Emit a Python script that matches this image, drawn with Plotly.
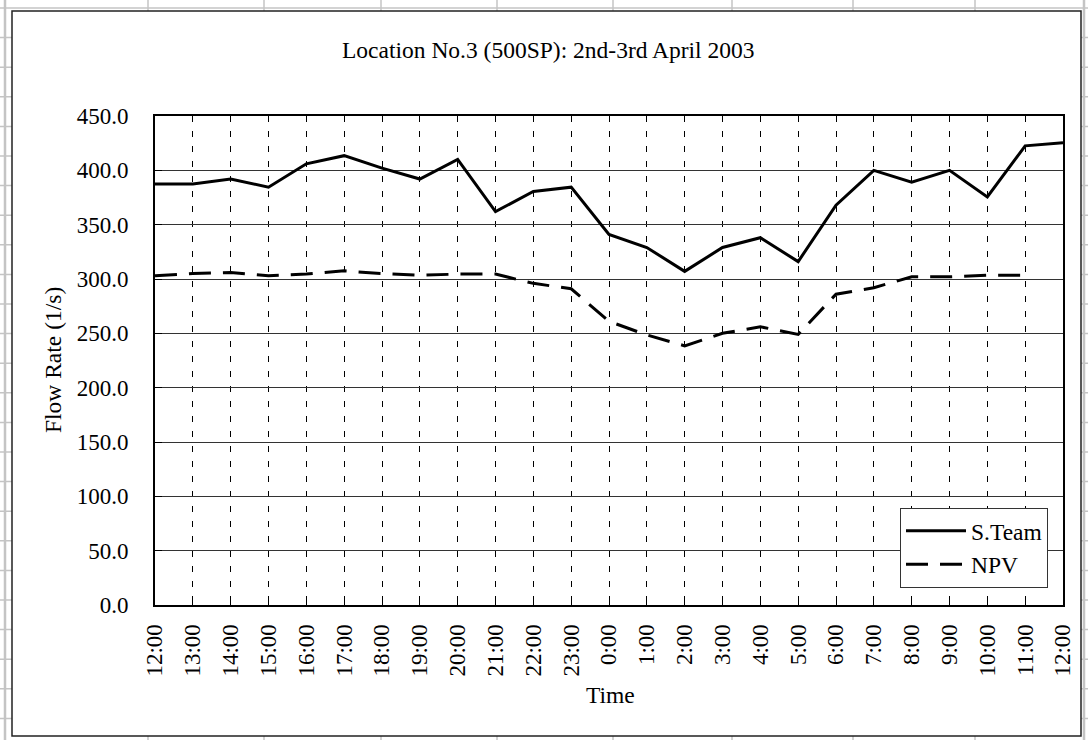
import plotly.graph_objects as go

# ---- data ----
TIME_LABELS = ["12:00", "13:00", "14:00", "15:00", "16:00", "17:00", "18:00", "19:00",
               "20:00", "21:00", "22:00", "23:00", "0:00", "1:00", "2:00", "3:00",
               "4:00", "5:00", "6:00", "7:00", "8:00", "9:00", "10:00", "11:00", "12:00"]
S_TEAM = [387.5, 387.5, 392.0, 384.5, 406.0, 413.5, 402.0, 392.0, 410.0, 362.0, 380.5, 384.5,
          341.0, 329.0, 307.0, 329.0, 338.0, 316.0, 368.0, 400.0, 389.0, 400.0, 375.5, 422.5, 425.5]
NPV = [303.0, 305.0, 306.0, 303.0, 304.5, 307.5, 305.0, 303.5, 304.5, 304.5, 296.0, 291.0,
       261.0, 248.5, 238.5, 250.0, 256.0, 249.0, 286.0, 292.0, 302.0, 302.0, 303.5, 303.5, None]
X_POS = list(range(len(TIME_LABELS)))

FONT = "Liberation Serif, Times New Roman, serif"
W, H = 1088, 740
L, R, T, B = 155, 1063, 116, 605  # plot area in screen px


def px(x):
    return (x - L) / (R - L)


def py(y):
    return (B - y) / (B - T)


fig = go.Figure()
fig.add_trace(go.Scatter(x=X_POS, y=S_TEAM, mode="lines", name="S.Team",
                         line=dict(color="black", width=3)))
fig.add_trace(go.Scatter(x=X_POS, y=NPV, mode="lines", name="NPV",
                         line=dict(color="black", width=3, dash="22px,12px")))

shapes = []
grey = "#c4c4c4"
# spreadsheet cell lines around the chart object
for cx in [148, 264, 381, 497, 613, 732, 853, 975]:
    shapes.append(dict(type="line", xref="paper", yref="paper", layer="below",
                       x0=px(cx), x1=px(cx), y0=py(0), y1=py(745),
                       line=dict(color=grey, width=1.5)))
for cx in [5, 1084]:
    shapes.append(dict(type="line", xref="paper", yref="paper", layer="below",
                       x0=px(cx), x1=px(cx), y0=py(0), y1=py(745),
                       line=dict(color=grey, width=2.5)))
ry = 8.0
while ry < 745:
    shapes.append(dict(type="line", xref="paper", yref="paper", layer="below",
                       x0=px(0), x1=px(1090), y0=py(ry), y1=py(ry),
                       line=dict(color=grey, width=1.5)))
    ry += 29.6
# chart frame
shapes.append(dict(type="rect", xref="paper", yref="paper", layer="below",
                   x0=px(12), x1=px(1081), y0=py(736), y1=py(11),
                   fillcolor="white", line=dict(color="#222", width=1.5)))

fig.update_layout(
    width=W, height=H,
    margin=dict(l=L, r=W - R, t=T, b=H - B, pad=0),
    paper_bgcolor="white", plot_bgcolor="white",
    font=dict(family=FONT, size=23, color="black"),
    shapes=shapes,
    showlegend=True,
    hovermode=False,
    legend=dict(x=px(1048), y=py(588), xanchor="right", yanchor="bottom",
                bgcolor="white", bordercolor="#333", borderwidth=1,
                font=dict(family=FONT, size=23.5, color="black"),
                itemwidth=60, tracegroupgap=0),
    annotations=[
        dict(text="Location No.3 (500SP): 2nd-3rd April 2003", xref="paper", yref="paper",
             x=px(548), y=py(50), showarrow=False, xanchor="center", yanchor="middle",
             font=dict(family=FONT, size=23.5, color="black")),
        dict(text="Flow Rate (1/s)", xref="paper", yref="paper",
             x=px(53), y=py(360), showarrow=False, textangle=-90,
             xanchor="center", yanchor="middle",
             font=dict(family=FONT, size=23.5, color="black")),
        dict(text="Time", xref="paper", yref="paper",
             x=px(610), y=py(695), showarrow=False, xanchor="center", yanchor="middle",
             font=dict(family=FONT, size=23.5, color="black")),
    ],
)

fig.update_xaxes(
    range=[0, len(TIME_LABELS) - 1], tickmode="array", tickvals=X_POS, ticktext=TIME_LABELS,
    tickangle=-90, showgrid=True, gridcolor="black", gridwidth=1, griddash="6px,9px",
    showline=True, linecolor="black", linewidth=2, mirror=True,
    ticks="inside", ticklen=6, tickcolor="black", ticklabelstandoff=8,
    zeroline=False, tickfont=dict(family=FONT, size=23, color="black"),
)
fig.update_yaxes(
    range=[0, 450], tickmode="linear", tick0=0, dtick=50, tickformat=".1f",
    showgrid=True, gridcolor="#333", gridwidth=1,
    showline=True, linecolor="black", linewidth=2, mirror=True,
    ticks="inside", ticklen=7, tickcolor="black", ticklabelstandoff=20,
    zeroline=False, tickfont=dict(family=FONT, size=23, color="black"),
)

fig.write_html("out.html", config={"displayModeBar": False},
               post_script="document.body.style.margin='0';document.body.style.overflow='hidden';")
